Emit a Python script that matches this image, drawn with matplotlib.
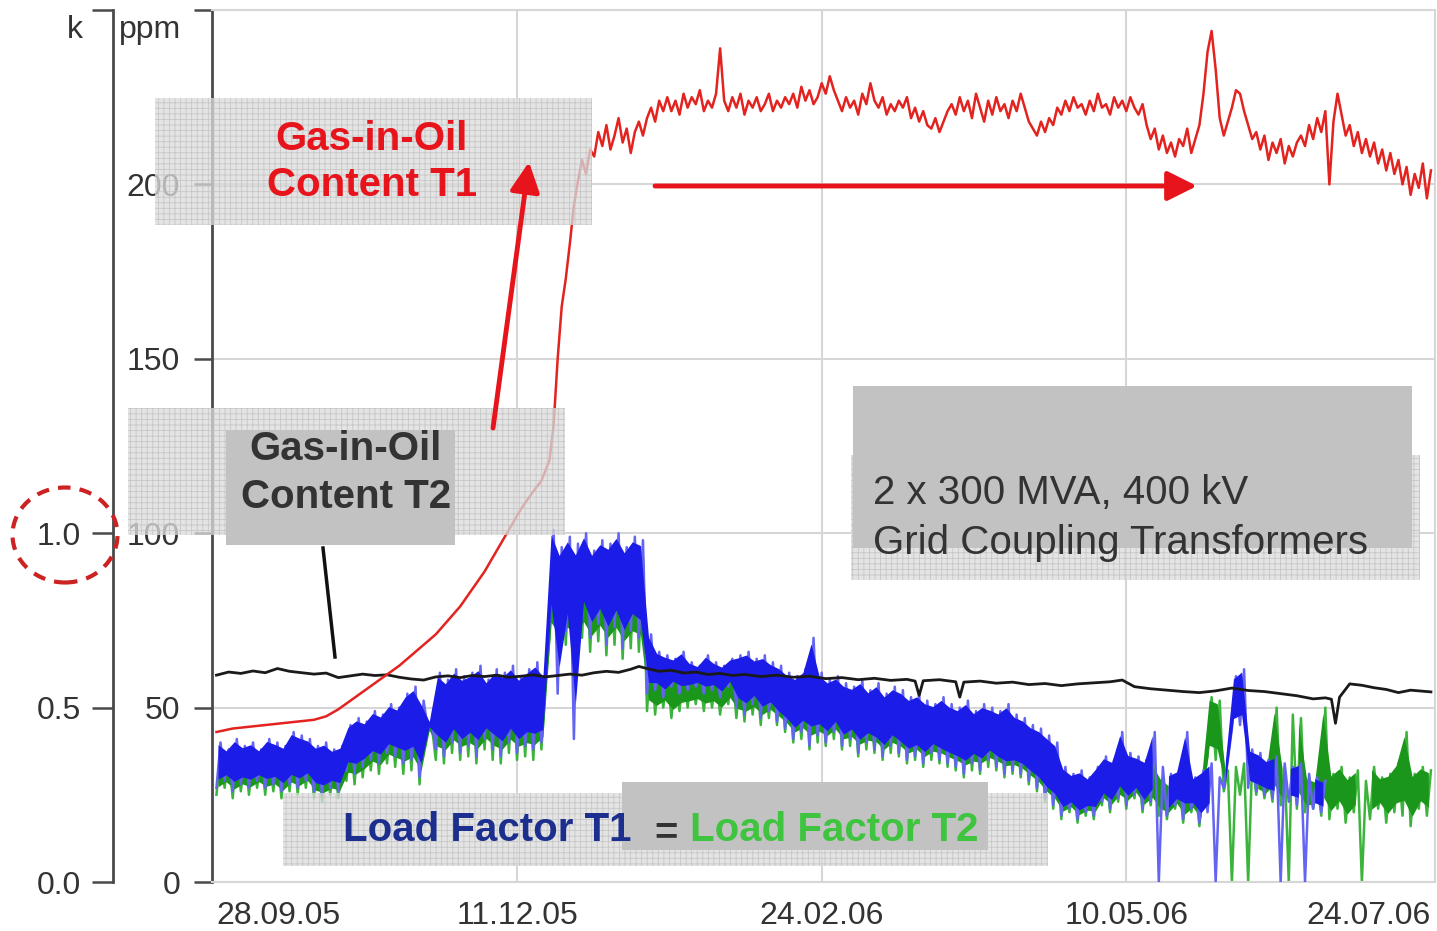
import numpy as np
import matplotlib
matplotlib.use("Agg")
import matplotlib.pyplot as plt
from matplotlib import patches

plt.rcParams["font.family"] = ["Liberation Sans", "DejaVu Sans"]
plt.rcParams["hatch.linewidth"] = 0.6

W, H = 1437, 931

# --- x axis: days since 28.09.05 ---
tick_days = [0, 74, 149, 224, 299]
tick_labels = ["28.09.05", "11.12.05", "24.02.06", "10.05.06", "24.07.06"]

# --- Gas-in-oil content T1 (ppm), red ---
t1_rise_days = [0, 4, 8, 12, 16, 20, 24, 27, 30, 33, 36, 39, 42, 45, 48, 51, 54, 57, 60,
                63, 66, 69, 72, 75, 78, 80, 81, 82, 83, 84, 85, 86, 87, 88, 89, 90, 91, 92]
t1_rise_ppm = [43, 44, 44.5, 45, 45.5, 46, 46.5, 47.5, 49.5, 52, 54.5, 57, 59.5, 62, 65, 68,
               71, 75, 79, 84, 89, 95, 101, 107, 112, 115, 118, 121, 131, 150, 165, 173, 183,
               194, 201, 207, 203, 210]
# daily values from day 93 to 299
t1_plateau_ppm = [
    208, 215, 211, 217, 210, 214, 219, 212, 216, 209, 215, 218,
    214, 219, 222, 218, 224, 221,
    225, 221, 224, 220, 226, 222, 225, 223, 227, 221, 224, 222, 226,
    239,
    224, 221, 225, 222, 226, 220, 224, 222, 225, 221, 223, 226, 221, 224, 222, 225,
    223, 226, 222, 228, 224, 227, 223, 225,
    229, 226, 231, 227,
    224, 221, 225, 222, 224, 220, 226, 223, 229, 224, 222, 225, 220, 223, 221, 224, 222, 225,
    219, 222, 218, 221, 217,
    216, 219, 215, 218, 221,
    223, 220, 225, 221, 224, 219, 226, 222, 218, 224, 220, 225, 221, 223, 219, 224, 221, 226,
    222, 218,
    216, 214, 218, 215, 219, 217,
    222, 220, 224, 221, 225, 222, 223, 220, 224, 221, 226, 222, 223, 220, 225, 222, 224, 221,
    225, 222, 220, 223,
    217, 213, 216, 210, 214, 209, 212, 208, 213, 211, 216, 209, 213, 217,
    226, 238, 244, 233, 219, 214,
    218, 222, 227, 226, 221, 217, 213, 215,
    210, 214, 207, 212, 209, 213, 206, 211, 208, 212,
    214, 211, 217, 213, 219, 215, 221, 200, 218, 226, 220,
    214, 217, 211, 215, 209, 213, 208, 212, 206, 210, 204, 209, 203, 207, 200, 205, 197, 203,
    199, 206, 196, 204,
]

# --- Gas-in-oil content T2 (ppm), black ---
t2_days = [0, 3, 6, 9, 12, 15, 18, 21, 24, 27, 30, 33, 36, 39, 42, 45, 48, 51, 54, 57, 60,
           63, 66, 69, 72, 75, 78, 81, 84, 87, 90, 93, 96, 99, 102, 104, 106, 109, 112, 115,
           118, 121, 124, 127, 130, 134, 138, 142, 146, 150, 154, 158, 162, 166, 170, 172,
           173, 174, 178, 182, 183, 184, 188, 192, 196, 200, 204, 208, 212, 216, 220, 223,
           226, 230, 234, 238, 242, 246, 250, 254, 258, 262, 266, 270, 273, 274.5, 275.5,
           276.5, 279, 282, 285, 288, 291, 294, 297, 299]
t2_ppm = [59.3, 60.2, 59.8, 60.5, 60.0, 61.2, 60.4, 60.0, 59.6, 59.9, 58.6, 59.1, 59.6, 59.2,
          59.4, 58.7, 58.2, 57.9, 58.8, 59.1, 58.6, 59.2, 58.9, 59.3, 58.7, 59.0, 59.4, 58.8,
          59.2, 59.6, 59.3, 60.0, 60.4, 60.1, 61.0, 61.8, 61.2, 60.4, 60.7, 59.9, 60.2, 59.5,
          59.8, 59.2, 59.5, 58.9, 59.3, 58.7, 59.0, 58.3, 58.6, 58.0, 58.4, 57.8, 58.1, 57.6,
          53.5, 57.7, 58.0, 57.4, 53.0, 57.3, 57.6, 57.0, 57.3, 56.6, 56.9, 56.3, 56.8, 57.1,
          57.4, 57.9, 56.0, 55.4, 55.0, 54.6, 54.3, 54.8, 55.6, 54.9, 54.6, 54.0, 53.4, 52.5,
          52.8, 52.4, 45.5, 53.0, 56.8, 56.4, 55.7, 55.2, 54.3, 55.0, 54.7, 54.5]

# --- Load factor T1 (blue), band low/high every 2 days from day 0, in ppm scale (k x 100) ---
lf1_hi = [40, 38, 41, 39, 40, 38, 41, 40, 39, 43,
          42, 41, 39, 40, 38, 39, 45, 47, 46, 49,
          48, 51, 50, 54, 56, 52, 46, 60, 58, 61,
          59, 60, 62, 58, 61, 60, 62, 59, 61, 63,
          60, 101, 96, 99, 97, 100, 95, 98, 97, 100,
          96, 99, 98, 71, 66, 65, 64, 66, 63, 62,
          65, 63, 62, 64, 65, 66, 64, 65, 63, 62,
          60, 59, 61, 70, 60, 58, 59, 57, 56, 58,
          55, 57, 54, 56, 55, 53, 54, 52, 51, 53,
          51, 50, 52, 49, 51, 50, 49, 51, 48, 47,
          45, 44, 42, 40, 33, 31, 32, 30, 33, 36,
          35, 43, 37, 36, 35, 43, 33, 31, 32, 43,
          30, 32, 34, 30, 35, 59, 61, 38, 37, 35,
          36, 34, 33, 34, 31, 30, 29]
lf1_lo = [27, 29, 26, 28, 27, 29, 27, 28, 26, 28,
          27, 29, 26, 25, 27, 26, 32, 31, 33, 35,
          34, 37, 36, 34, 35, 30, 44, 38, 36, 40,
          37, 39, 36, 41, 38, 36, 40, 37, 39, 38,
          40, 75, 54, 72, 41, 76, 70, 74, 68, 73,
          67, 72, 70, 54, 55, 53, 56, 54, 55, 56,
          54, 55, 53, 56, 50, 48, 51, 47, 49, 46,
          44, 41, 43, 39, 42, 40, 43, 39, 41, 37,
          40, 38, 36, 39, 37, 35, 36, 34, 37, 35,
          34, 33, 31, 34, 32, 35, 33, 31, 32, 31,
          29, 27, 24, 22, 19, 21, 18, 20, 19, 23,
          21, 24, 22, 25, 21, 23, 0, 19, 22, 18,
          21, 17, 20, 0, 27, 44, 45, 27, 26, 25,
          24, 0, 23, 22, 0, 21, 20]

# --- Load factor T2 (green), band low/high every 2 days from day 0 ---
lf2_hi = [37, 36, 38, 37, 37, 36, 38, 37, 36, 40,
          39, 38, 36, 37, 35, 36, 42, 44, 43, 46,
          45, 48, 47, 51, 53, 49, 45, 56, 55, 57,
          56, 57, 58, 55, 57, 56, 58, 56, 57, 59,
          57, 94, 92, 95, 93, 95, 91, 94, 93, 95,
          92, 94, 93, 66, 62, 61, 60, 62, 60, 59,
          61, 60, 59, 61, 61, 62, 60, 61, 60, 59,
          57, 56, 58, 60, 57, 55, 56, 54, 53, 55,
          52, 54, 51, 53, 52, 50, 51, 49, 48, 50,
          48, 47, 49, 46, 48, 47, 46, 48, 45, 44,
          42, 41, 39, 37, 30, 28, 29, 27, 30, 33,
          32, 34, 34, 33, 32, 34, 30, 28, 29, 30,
          27, 29, 53, 52, 32, 33, 34, 35, 34, 32,
          50, 33, 48, 47, 30, 29, 50, 31, 33, 30,
          32, 29, 33, 30, 31, 34, 43, 31, 33, 32]
lf2_lo = [25, 27, 24, 26, 25, 27, 25, 26, 24, 26,
          25, 27, 24, 23, 25, 24, 29, 28, 30, 32,
          31, 34, 33, 31, 32, 28, 43, 35, 34, 37,
          35, 36, 34, 38, 35, 34, 37, 35, 36, 35,
          38, 70, 66, 68, 67, 70, 66, 69, 65, 68,
          64, 67, 66, 49, 48, 50, 47, 49, 50, 51,
          49, 50, 48, 51, 47, 46, 48, 45, 47, 45,
          43, 40, 41, 38, 40, 39, 41, 38, 39, 36,
          38, 37, 35, 37, 36, 34, 35, 33, 35, 34,
          33, 32, 30, 32, 31, 33, 32, 30, 31, 30,
          28, 26, 23, 21, 18, 20, 17, 19, 18, 22,
          20, 23, 21, 24, 20, 22, 19, 18, 21, 17,
          20, 16, 36, 35, 26, 0, 25, 0, 25, 24,
          23, 22, 0, 21, 20, 21, 19, 18, 21, 17,
          20, 0, 18, 21, 17, 20, 19, 16, 21, 19]


def draw_band(ax, lo, hi, core_c, edge_c, z):
    # noisy trace alternating low/high samples, with a denser core drawn on top
    lo = np.asarray(lo, float)
    hi = np.asarray(hi, float)
    d = np.arange(len(lo)) * 2.0
    xs = np.empty(2 * len(lo))
    ys = np.empty(2 * len(lo))
    xs[0::2], xs[1::2] = d, d + 1
    ys[0::2], ys[1::2] = lo, hi
    ax.plot(xs, ys, color=edge_c, lw=1.8, zorder=z)
    valid = np.where(lo == 0, np.nan, lo)
    span = hi - valid
    ax.fill_between(d + 0.5, valid + 0.18 * span, hi - 0.06 * span, color=core_c, lw=0,
                    zorder=z + 0.1)


def fx(x):
    return x / W


def fy(y):
    return 1 - y / H


def fig_rect(fig, x0, y0, x1, y1, **kw):
    r = patches.Rectangle((fx(x0), fy(y1)), (x1 - x0) / W, (y1 - y0) / H,
                          transform=fig.transFigure, **kw)
    fig.add_artist(r)
    return r


fig = plt.figure(figsize=(W / 100, H / 100), dpi=100)
ax = fig.add_axes([fx(212), fy(882), (1435 - 212) / W, (882 - 10) / H])

grid_c = "#d6d6d6"
axis_c = "#4a4a4a"
lab_c = "#333333"

# data
draw_band(ax, lf2_lo, lf2_hi, "#1a961a", "#3cb43c", 2)
draw_band(ax, lf1_lo, lf1_hi, "#1c1ce8", "#6464f2", 3)
ax.plot(t2_days, t2_ppm, color="#1a1a1a", lw=2.0, zorder=4)
t1_days = list(t1_rise_days) + list(range(93, 93 + len(t1_plateau_ppm)))
ax.plot(t1_days, list(t1_rise_ppm) + t1_plateau_ppm, color="#e2231f", lw=1.8, zorder=5)

# axes styling
ax.set_xlim(-1.1, 300)
ax.set_ylim(0, 250)
ax.set_yticks([0, 50, 100, 150, 200, 250], ["0", "50", "100", "150", "200", ""])
ax.set_xticks(tick_days, tick_labels)
ax.grid(True, axis="y", color=grid_c, lw=1.5, zorder=0)
for d in tick_days[1:-1]:
    ax.axvline(d, color=grid_c, lw=1.5, zorder=0)
ax.set_axisbelow(True)
for s in ("top", "right", "bottom"):
    ax.spines[s].set_color(grid_c)
    ax.spines[s].set_linewidth(1.5)
ax.spines["left"].set_color(axis_c)
ax.spines["left"].set_linewidth(2)
ax.tick_params(axis="y", length=13, width=1.8, color=axis_c, pad=10,
               labelsize=23, labelcolor=lab_c)
ax.tick_params(axis="x", length=0, pad=14, labelsize=23, labelcolor=lab_c)
xl = ax.get_xticklabels()
xl[0].set_horizontalalignment("left")
xl[-1].set_horizontalalignment("right")

sec = ax.secondary_yaxis((113 - 212) / (1435 - 212),
                         functions=(lambda p: p / 100, lambda k: k * 100))
sec.set_yticks([0, 0.5, 1.0, 2.5], ["0.0", "0.5", "1.0", ""])
sec.spines["left"].set_color(axis_c)
sec.spines["left"].set_linewidth(2)
sec.tick_params(length=15, width=1.8, color=axis_c, pad=8, labelsize=23, labelcolor=lab_c)

fig.text(fx(119), fy(30), "ppm", fontsize=23, color=lab_c, ha="left", va="center")
fig.text(fx(75), fy(30), "k", fontsize=23, color=lab_c, ha="center", va="center")

# dashed circle around k = 1.0
fig.add_artist(patches.Ellipse((fx(65), fy(535)), 105 / W, 95 / H, transform=fig.transFigure,
                               fill=False, ec="#cc2222", lw=3, ls=(0, (3, 2.2)), zorder=8))

# annotation boxes (semi-transparent grid boxes + solid grey boxes)
hatch_kw = dict(facecolor="#dcdcdc", edgecolor="#bdbdbd", lw=0, hatch="+++", alpha=0.75, zorder=5)
solid_kw = dict(facecolor="#c2c2c2", lw=0, zorder=6)
fig_rect(fig, 155, 98, 592, 225, **hatch_kw)
fig_rect(fig, 128, 408, 565, 535, **hatch_kw)
fig_rect(fig, 226, 430, 455, 545, **solid_kw)
fig_rect(fig, 851, 455, 1420, 580, **hatch_kw)
fig_rect(fig, 853, 386, 1412, 548, **solid_kw)
fig_rect(fig, 283, 793, 1048, 866, **hatch_kw)
fig_rect(fig, 622, 782, 988, 850, **solid_kw)

fig.text(fx(372), fy(162), "Gas-in-Oil\nContent T1", fontsize=29, fontweight="bold",
         color="#e8141c", ha="center", va="center", linespacing=1.3, zorder=9)
fig.text(fx(346), fy(473), "Gas-in-Oil\nContent T2", fontsize=29, fontweight="bold",
         color="#333333", ha="center", va="center", linespacing=1.3, zorder=9)
fig.text(fx(873), fy(518), "2 x 300 MVA, 400 kV\nGrid Coupling Transformers", fontsize=29,
         color="#333333", ha="left", va="center", linespacing=1.4, zorder=9)
fig.text(fx(343), fy(830), "Load Factor T1", fontsize=29, fontweight="bold",
         color="#1c2f8f", ha="left", va="center", zorder=9)
fig.text(fx(666), fy(833), "=", fontsize=29, fontweight="bold",
         color="#333333", ha="center", va="center", zorder=9)
fig.text(fx(690), fy(830), "Load Factor T2", fontsize=29, fontweight="bold",
         color="#3ec43e", ha="left", va="center", zorder=9)

# arrows and leader line
for (x0, y0), (x1, y1) in [((493, 428), (529, 162)), ((655, 186), (1197, 186))]:
    fig.add_artist(patches.FancyArrowPatch((fx(x0), fy(y0)), (fx(x1), fy(y1)),
                                           transform=fig.transFigure,
                                           arrowstyle="-|>,head_length=0.9,head_width=0.45",
                                           mutation_scale=20, color="#e8141c", lw=3.5,
                                           shrinkA=0, shrinkB=0, zorder=10))
fig.add_artist(plt.Line2D([fx(323), fx(335)], [fy(548), fy(657)], transform=fig.transFigure,
                          color="#111111", lw=2.5, zorder=10))

fig.savefig("out.png", dpi=100)
